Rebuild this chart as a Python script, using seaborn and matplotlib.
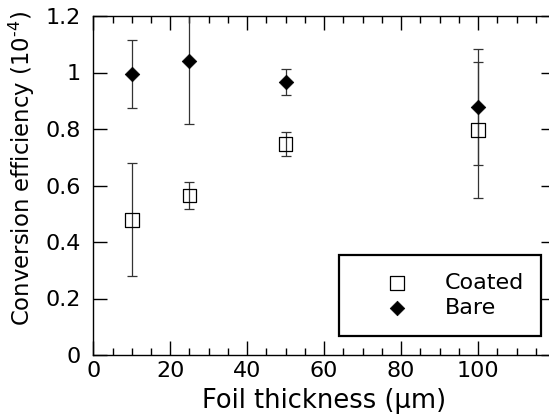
import matplotlib
matplotlib.use("Agg")
import matplotlib.pyplot as plt
from matplotlib.ticker import MultipleLocator, FuncFormatter
from matplotlib.patches import Rectangle
import seaborn as sns
import pandas as pd

# Data
thickness = [10, 25, 50, 100]
coated = [0.478, 0.564, 0.746, 0.796]
coated_err = [0.20, 0.047, 0.043, 0.24]
bare = [0.995, 1.04, 0.967, 0.877]
bare_err = [0.12, 0.222, 0.046, 0.206]
x_ticks = [0, 20, 40, 60, 80, 100]
y_ticks = [0, 0.2, 0.4, 0.6, 0.8, 1.0, 1.2]

sns.set_theme(style="ticks")
plt.rcParams['font.family'] = ['DejaVu Sans']
plt.rcParams.update({
    'axes.edgecolor': 'black', 'xtick.color': 'black', 'ytick.color': 'black',
    'axes.labelcolor': 'black', 'text.color': 'black',
    'mathtext.fontset': 'dejavusans', 'mathtext.default': 'regular',
})

fig = plt.figure(figsize=(5.49, 4.17), dpi=100)
ax = fig.add_axes([93.3 / 549, 62 / 417, 461.7 / 549, 339 / 417])

df_c = pd.DataFrame({'x': thickness, 'y': coated})
df_b = pd.DataFrame({'x': thickness, 'y': bare})

ecol = '#333333'
ax.errorbar(thickness, coated, yerr=coated_err, fmt='none', ecolor=ecol,
            elinewidth=0.9, capsize=3.8, capthick=0.9, zorder=2)
ax.errorbar(thickness, bare, yerr=bare_err, fmt='none', ecolor=ecol,
            elinewidth=0.9, capsize=3.8, capthick=0.9, zorder=2)

sns.scatterplot(data=df_c, x='x', y='y', ax=ax, marker='s', s=95,
                facecolor='none', edgecolor='black', linewidth=0.9,
                label='Coated', zorder=3)
sns.scatterplot(data=df_b, x='x', y='y', ax=ax, marker='D', s=55,
                color='black', edgecolor='black', linewidth=0.5,
                label='Bare', zorder=4)

ax.set_xlim(0, 120)
ax.set_ylim(0, 1.2)
ax.set_xticks(x_ticks + [120])
ax.set_xticklabels([str(t) for t in x_ticks] + [''])
ax.xaxis.set_minor_locator(MultipleLocator(5))
ax.set_yticks(y_ticks)
ax.yaxis.set_major_formatter(FuncFormatter(lambda v, p: f"{v:g}"))

ax.tick_params(axis='both', which='both', direction='in', top=True, right=True,
               width=1.0, colors='black')
ax.tick_params(axis='both', which='major', length=10, labelsize=16)
ax.tick_params(axis='both', which='minor', length=5)
ax.tick_params(axis='x', which='major', pad=4.3)
ax.tick_params(axis='y', which='major', pad=9)
for sp in ax.spines.values():
    sp.set_linewidth(1.0)
    sp.set_color('black')

ax.set_xlabel('Foil thickness (\u00b5m)', fontsize=18.5)
ax.set_ylabel('Conversion efficiency (10$^{\u2010 4}$)', fontsize=16.4)
ax.xaxis.set_label_coords(0.5, -0.097)
ax.yaxis.set_label_coords(-0.122, 0.549)

# legend box
rect = Rectangle((0.532, 0.056), 0.970 - 0.532, 0.295 - 0.056,
                 transform=ax.transAxes, fill=True, facecolor='white',
                 edgecolor='black', linewidth=1.6, zorder=5)
ax.add_patch(rect)
leg = ax.legend(loc='center left', bbox_to_anchor=(0.610, 0.1755),
                frameon=False, fontsize=16, handlelength=2.0,
                handletextpad=1.13, borderpad=0, borderaxespad=0,
                labelspacing=0.25)
leg.set_zorder(6)

fig.savefig('out.png', dpi=100)
